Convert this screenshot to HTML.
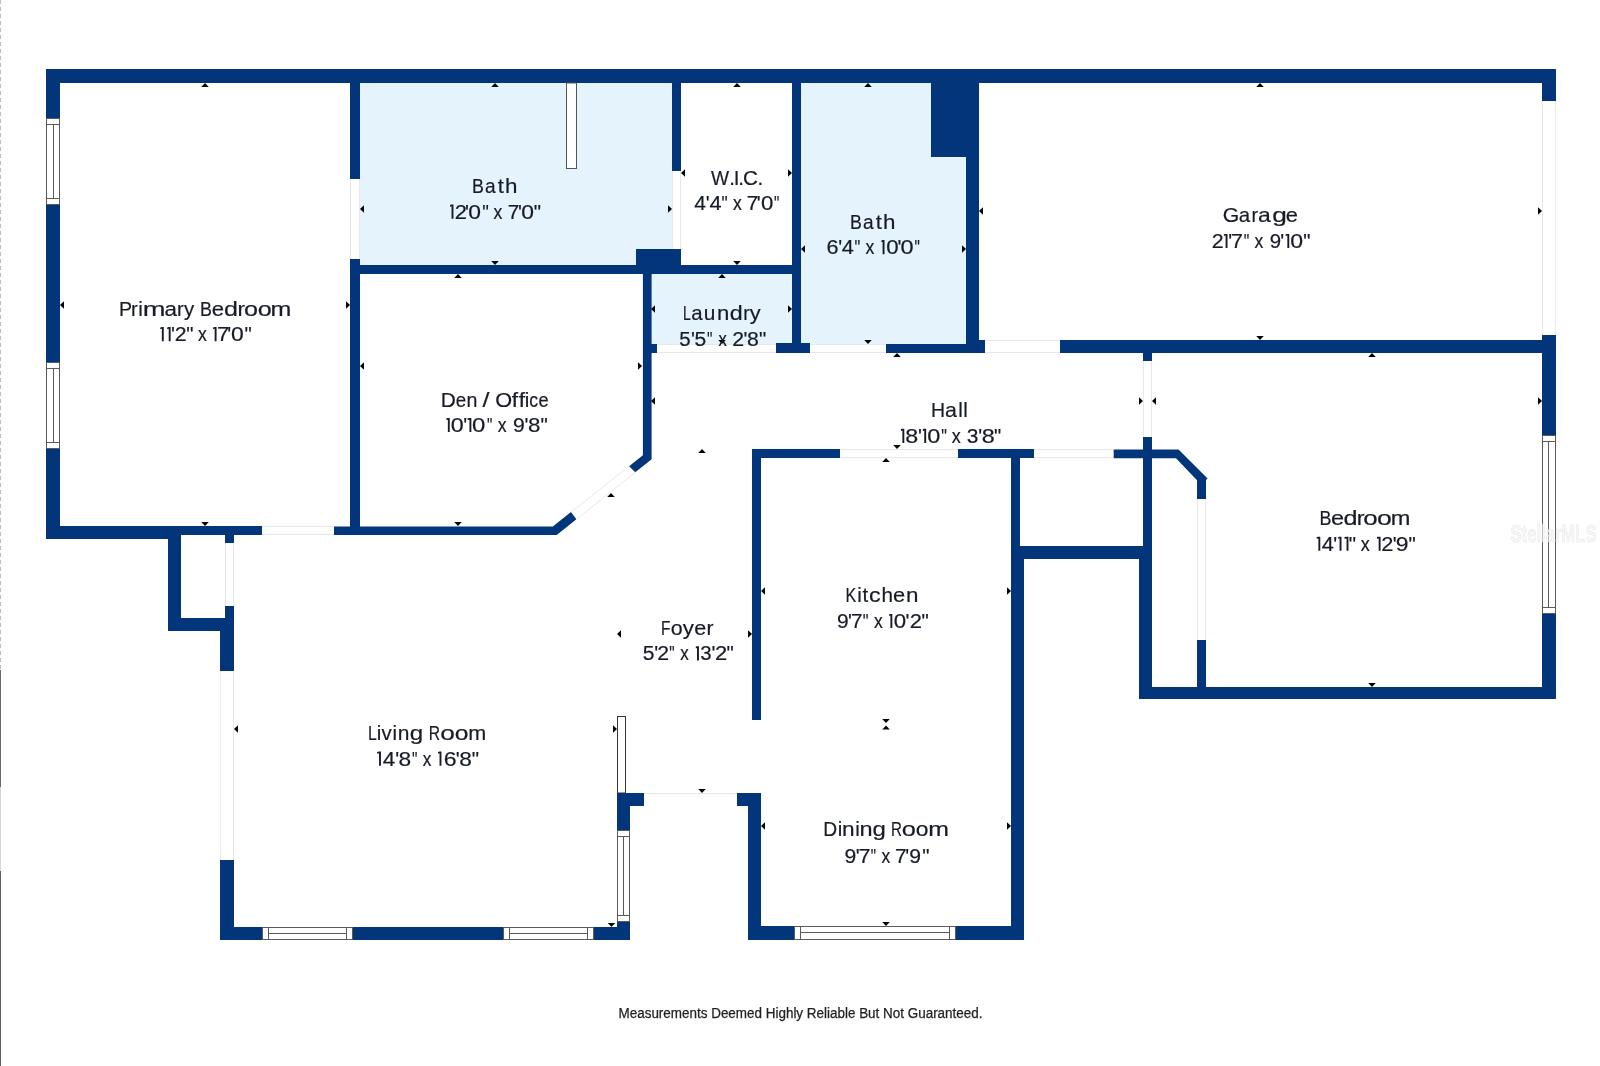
<!DOCTYPE html>
<html><head><meta charset="utf-8"><style>
html,body{margin:0;padding:0;background:#fff;}
body{width:1600px;height:1066px;overflow:hidden;position:relative;}
svg{position:absolute;left:0;top:0;will-change:transform;}
.t{font-family:"Liberation Sans",sans-serif;font-size:20.5px;fill:#171b27;stroke:#171b27;stroke-width:0.2px;font-variant-ligatures:none;}
.one{fill:#171b27;}
.f{font-family:"Liberation Sans",sans-serif;font-size:14px;fill:#222;stroke:#222;stroke-width:0.25px;}
.wm{font-family:"Liberation Sans",sans-serif;font-size:23.5px;font-weight:bold;fill:#f5f5f5;stroke:#e0e0e0;stroke-width:0.6px;opacity:0.75;}
</style></head><body>
<svg width="1600" height="1066" viewBox="0 0 1600 1066">
<line x1="0.5" y1="0" x2="0.5" y2="670" stroke="#bdbdbd" stroke-width="1" stroke-dasharray="4 3"/>
<line x1="0.5" y1="670" x2="0.5" y2="787" stroke="#6a6a60" stroke-width="1"/>
<line x1="0.5" y1="787" x2="0.5" y2="871" stroke="#d5d5d5" stroke-width="1"/>
<line x1="0.5" y1="871" x2="0.5" y2="1066" stroke="#5e5e5e" stroke-width="1"/>
<path fill="#e5f3fc" d="M801,83H931V157H966V344H801Z"/>
<rect x="360" y="83" width="312" height="182" fill="#e5f3fc"/>
<rect x="651" y="274" width="141" height="70" fill="#e5f3fc"/>
<rect x="46" y="69" width="1510" height="14" fill="#03357a"/>
<rect x="46" y="69" width="14" height="470" fill="#03357a"/>
<rect x="46" y="526" width="122" height="13" fill="#03357a"/>
<rect x="168" y="526" width="94" height="9" fill="#03357a"/>
<rect x="262" y="526" width="72" height="9" fill="#fff"/>
<line x1="262" y1="526.5" x2="334" y2="526.5" stroke="#e8e8e8" stroke-width="1"/>
<line x1="262" y1="534.5" x2="334" y2="534.5" stroke="#e8e8e8" stroke-width="1"/>
<rect x="350" y="83" width="10" height="96" fill="#03357a"/>
<rect x="350" y="179" width="10" height="80" fill="#fff"/>
<line x1="350.5" y1="179" x2="350.5" y2="259" stroke="#e8e8e8" stroke-width="1"/>
<line x1="359.5" y1="179" x2="359.5" y2="259" stroke="#e8e8e8" stroke-width="1"/>
<rect x="350" y="259" width="10" height="276" fill="#03357a"/>
<rect x="350" y="265" width="451" height="9" fill="#03357a"/>
<rect x="636" y="249" width="45" height="25" fill="#03357a"/>
<rect x="672" y="83" width="9" height="88" fill="#03357a"/>
<rect x="672" y="171" width="9" height="78" fill="#fff"/>
<line x1="672.5" y1="171" x2="672.5" y2="249" stroke="#e8e8e8" stroke-width="1"/>
<line x1="680.5" y1="171" x2="680.5" y2="249" stroke="#e8e8e8" stroke-width="1"/>
<rect x="792" y="83" width="9" height="270" fill="#03357a"/>
<rect x="566.5" y="83" width="10" height="85.5" fill="#fff" stroke="#555" stroke-width="1"/>
<rect x="931" y="83" width="48" height="74" fill="#03357a"/>
<rect x="966" y="157" width="13" height="196" fill="#03357a"/>
<rect x="979" y="340" width="6" height="13" fill="#03357a"/>
<rect x="886" y="344" width="99" height="9" fill="#03357a"/>
<rect x="776" y="343" width="34" height="10" fill="#03357a"/>
<rect x="810" y="344" width="76" height="9" fill="#fff"/>
<line x1="810" y1="344.5" x2="886" y2="344.5" stroke="#e8e8e8" stroke-width="1"/>
<line x1="810" y1="352.5" x2="886" y2="352.5" stroke="#e8e8e8" stroke-width="1"/>
<rect x="651" y="344" width="6" height="9" fill="#03357a"/>
<rect x="657" y="344" width="119" height="9" fill="#fff"/>
<line x1="657" y1="344.5" x2="776" y2="344.5" stroke="#e8e8e8" stroke-width="1"/>
<line x1="657" y1="352.5" x2="776" y2="352.5" stroke="#e8e8e8" stroke-width="1"/>
<polygon points="334,526.5 552.8,526.5 571.0,512.1177580466149 576.4,519.2649104320337 556.7,535 334,535" fill="#03357a"/>
<polygon points="629.1,466.2052164261931 642.9,455.3 642.9,274 651.6,274 651.6,459.2 635.3,472.2193888303478" fill="#03357a"/>
<line x1="571.00" y1="512.12" x2="629.10" y2="466.21" stroke="#e8e8e8" stroke-width="1"/>
<line x1="576.40" y1="519.26" x2="635.30" y2="472.22" stroke="#e8e8e8" stroke-width="1"/>
<rect x="985" y="340" width="75" height="13" fill="#fff"/>
<line x1="985" y1="340.5" x2="1060" y2="340.5" stroke="#e8e8e8" stroke-width="1"/>
<line x1="985" y1="352.5" x2="1060" y2="352.5" stroke="#e8e8e8" stroke-width="1"/>
<rect x="1060" y="340" width="496" height="13" fill="#03357a"/>
<rect x="1542" y="69" width="14" height="32" fill="#03357a"/>
<rect x="1542" y="101" width="14" height="234" fill="#fff"/>
<line x1="1542.5" y1="101" x2="1542.5" y2="335" stroke="#e8e8e8" stroke-width="1"/>
<line x1="1555.5" y1="101" x2="1555.5" y2="335" stroke="#e8e8e8" stroke-width="1"/>
<rect x="1542" y="335" width="14" height="100" fill="#03357a"/>
<rect x="1542.5" y="435.5" width="13" height="178" fill="#fff" stroke="#5a5a5a" stroke-width="1"/>
<line x1="1542" y1="441.5" x2="1556" y2="441.5" stroke="#5a5a5a" stroke-width="1"/>
<line x1="1542" y1="607.5" x2="1556" y2="607.5" stroke="#5a5a5a" stroke-width="1"/>
<line x1="1548.5" y1="441" x2="1548.5" y2="608" stroke="#5a5a5a" stroke-width="1"/>
<rect x="1542" y="614" width="14" height="85" fill="#03357a"/>
<rect x="1143" y="353" width="9" height="8" fill="#03357a"/>
<rect x="1143" y="361" width="9" height="76" fill="#fff"/>
<line x1="1143.5" y1="361" x2="1143.5" y2="437" stroke="#e8e8e8" stroke-width="1"/>
<line x1="1151.5" y1="361" x2="1151.5" y2="437" stroke="#e8e8e8" stroke-width="1"/>
<rect x="1143" y="437" width="9" height="109" fill="#03357a"/>
<rect x="1139" y="546" width="13" height="153" fill="#03357a"/>
<rect x="1139" y="687" width="417" height="12" fill="#03357a"/>
<rect x="1197" y="499" width="9" height="141" fill="#fff"/>
<line x1="1197.5" y1="499" x2="1197.5" y2="640" stroke="#e8e8e8" stroke-width="1"/>
<line x1="1205.5" y1="499" x2="1205.5" y2="640" stroke="#e8e8e8" stroke-width="1"/>
<rect x="1197" y="640" width="9" height="47" fill="#03357a"/>
<rect x="752" y="449" width="88" height="9" fill="#03357a"/>
<rect x="840" y="449" width="118" height="9" fill="#fff"/>
<line x1="840" y1="449.5" x2="958" y2="449.5" stroke="#e8e8e8" stroke-width="1"/>
<line x1="840" y1="457.5" x2="958" y2="457.5" stroke="#e8e8e8" stroke-width="1"/>
<rect x="958" y="449" width="76" height="9" fill="#03357a"/>
<rect x="1034" y="449" width="80" height="9" fill="#fff"/>
<line x1="1034" y1="449.5" x2="1114" y2="449.5" stroke="#e8e8e8" stroke-width="1"/>
<line x1="1034" y1="457.5" x2="1114" y2="457.5" stroke="#e8e8e8" stroke-width="1"/>
<polygon points="1113.7,449.4 1178.5,449.4 1207.6,478.5 1206,480 1206,499 1197,499 1197,480.2 1176,458.3 1113.7,458.3" fill="#03357a"/>
<rect x="1011" y="546" width="141" height="13" fill="#03357a"/>
<rect x="1011" y="449" width="9" height="97" fill="#03357a"/>
<rect x="1011" y="546" width="13" height="394" fill="#03357a"/>
<rect x="752" y="449" width="9" height="271" fill="#03357a"/>
<rect x="737" y="793" width="24" height="13" fill="#03357a"/>
<rect x="748" y="793" width="13" height="147" fill="#03357a"/>
<rect x="748" y="926" width="276" height="14" fill="#03357a"/>
<rect x="794.5" y="926.5" width="161" height="13" fill="#fff" stroke="#5a5a5a" stroke-width="1"/>
<line x1="800.5" y1="926" x2="800.5" y2="940" stroke="#5a5a5a" stroke-width="1"/>
<line x1="949.5" y1="926" x2="949.5" y2="940" stroke="#5a5a5a" stroke-width="1"/>
<line x1="800" y1="932.5" x2="950" y2="932.5" stroke="#5a5a5a" stroke-width="1"/>
<rect x="225" y="535" width="9" height="8" fill="#03357a"/>
<rect x="225" y="543" width="9" height="63" fill="#fff"/>
<line x1="225.5" y1="543" x2="225.5" y2="606" stroke="#e8e8e8" stroke-width="1"/>
<line x1="233.5" y1="543" x2="233.5" y2="606" stroke="#e8e8e8" stroke-width="1"/>
<rect x="225" y="606" width="9" height="25" fill="#03357a"/>
<rect x="220" y="631" width="14" height="40" fill="#03357a"/>
<rect x="220" y="671" width="14" height="189" fill="#fff"/>
<line x1="220.5" y1="671" x2="220.5" y2="860" stroke="#e8e8e8" stroke-width="1"/>
<line x1="233.5" y1="671" x2="233.5" y2="860" stroke="#e8e8e8" stroke-width="1"/>
<rect x="220" y="860" width="14" height="80" fill="#03357a"/>
<rect x="168" y="535" width="13" height="96" fill="#03357a"/>
<rect x="168" y="618" width="66" height="13" fill="#03357a"/>
<rect x="220" y="927" width="410" height="13" fill="#03357a"/>
<rect x="262.5" y="927.5" width="90" height="12" fill="#fff" stroke="#5a5a5a" stroke-width="1"/>
<line x1="268.5" y1="927" x2="268.5" y2="940" stroke="#5a5a5a" stroke-width="1"/>
<line x1="346.5" y1="927" x2="346.5" y2="940" stroke="#5a5a5a" stroke-width="1"/>
<line x1="268" y1="933.5" x2="347" y2="933.5" stroke="#5a5a5a" stroke-width="1"/>
<rect x="503.5" y="927.5" width="90" height="12" fill="#fff" stroke="#5a5a5a" stroke-width="1"/>
<line x1="509.5" y1="927" x2="509.5" y2="940" stroke="#5a5a5a" stroke-width="1"/>
<line x1="587.5" y1="927" x2="587.5" y2="940" stroke="#5a5a5a" stroke-width="1"/>
<line x1="509" y1="933.5" x2="588" y2="933.5" stroke="#5a5a5a" stroke-width="1"/>
<rect x="617" y="793" width="13" height="37" fill="#03357a"/>
<rect x="617.5" y="830.5" width="12" height="91" fill="#fff" stroke="#5a5a5a" stroke-width="1"/>
<line x1="617" y1="836.5" x2="630" y2="836.5" stroke="#5a5a5a" stroke-width="1"/>
<line x1="617" y1="915.5" x2="630" y2="915.5" stroke="#5a5a5a" stroke-width="1"/>
<line x1="623.5" y1="836" x2="623.5" y2="916" stroke="#5a5a5a" stroke-width="1"/>
<rect x="617" y="922" width="13" height="18" fill="#03357a"/>
<rect x="617" y="793" width="27" height="13" fill="#03357a"/>
<rect x="617.5" y="716.5" width="8" height="76.5" fill="#fff" stroke="#333" stroke-width="1"/>
<line x1="644" y1="793.5" x2="737" y2="793.5" stroke="#e8e8e8" stroke-width="1"/>
<rect x="46.5" y="118.5" width="13" height="86" fill="#fff" stroke="#5a5a5a" stroke-width="1"/>
<line x1="46" y1="124.5" x2="60" y2="124.5" stroke="#5a5a5a" stroke-width="1"/>
<line x1="46" y1="198.5" x2="60" y2="198.5" stroke="#5a5a5a" stroke-width="1"/>
<line x1="53.5" y1="124" x2="53.5" y2="199" stroke="#5a5a5a" stroke-width="1"/>
<rect x="46.5" y="362.5" width="13" height="86" fill="#fff" stroke="#5a5a5a" stroke-width="1"/>
<line x1="46" y1="368.5" x2="60" y2="368.5" stroke="#5a5a5a" stroke-width="1"/>
<line x1="46" y1="442.5" x2="60" y2="442.5" stroke="#5a5a5a" stroke-width="1"/>
<line x1="53.5" y1="368" x2="53.5" y2="443" stroke="#5a5a5a" stroke-width="1"/>
<polygon points="205,83 201.25,87 208.75,87" fill="#000"/>
<polygon points="205,526 201.25,522 208.75,522" fill="#000"/>
<polygon points="60,305 64,301.25 64,308.75" fill="#000"/>
<polygon points="350,305 346,301.25 346,308.75" fill="#000"/>
<polygon points="495,83 491.25,87 498.75,87" fill="#000"/>
<polygon points="495,265 491.25,261 498.75,261" fill="#000"/>
<polygon points="360,209 364,205.25 364,212.75" fill="#000"/>
<polygon points="672,209 668,205.25 668,212.75" fill="#000"/>
<polygon points="737,83 733.25,87 740.75,87" fill="#000"/>
<polygon points="737,265 733.25,261 740.75,261" fill="#000"/>
<polygon points="681,173 685,169.25 685,176.75" fill="#000"/>
<polygon points="792,173 788,169.25 788,176.75" fill="#000"/>
<polygon points="868,83 864.25,87 871.75,87" fill="#000"/>
<polygon points="868,344 864.25,340 871.75,340" fill="#000"/>
<polygon points="801,249 805,245.25 805,252.75" fill="#000"/>
<polygon points="966,249 962,245.25 962,252.75" fill="#000"/>
<polygon points="1260,83 1256.25,87 1263.75,87" fill="#000"/>
<polygon points="1260,340 1256.25,336 1263.75,336" fill="#000"/>
<polygon points="979,211 983,207.25 983,214.75" fill="#000"/>
<polygon points="1542,211 1538,207.25 1538,214.75" fill="#000"/>
<polygon points="722,274 718.25,278 725.75,278" fill="#000"/>
<polygon points="722,344 718.25,340 725.75,340" fill="#000"/>
<polygon points="651,309 655,305.25 655,312.75" fill="#000"/>
<polygon points="792,309 788,305.25 788,312.75" fill="#000"/>
<polygon points="458,274 454.25,278 461.75,278" fill="#000"/>
<polygon points="458,526 454.25,522 461.75,522" fill="#000"/>
<polygon points="360,366 364,362.25 364,369.75" fill="#000"/>
<polygon points="642,366 638,362.25 638,369.75" fill="#000"/>
<polygon points="897,353 893.25,357 900.75,357" fill="#000"/>
<polygon points="897,449 893.25,445 900.75,445" fill="#000"/>
<polygon points="651,401 655,397.25 655,404.75" fill="#000"/>
<polygon points="1143,401 1139,397.25 1139,404.75" fill="#000"/>
<polygon points="1372,353 1368.25,357 1375.75,357" fill="#000"/>
<polygon points="1372,687 1368.25,683 1375.75,683" fill="#000"/>
<polygon points="1152,401 1156,397.25 1156,404.75" fill="#000"/>
<polygon points="1542,401 1538,397.25 1538,404.75" fill="#000"/>
<polygon points="886,458 882.25,462 889.75,462" fill="#000"/>
<polygon points="886,723 882.25,719 889.75,719" fill="#000"/>
<polygon points="761,591 765,587.25 765,594.75" fill="#000"/>
<polygon points="1011,591 1007,587.25 1007,594.75" fill="#000"/>
<polygon points="886,725.5 882.25,729.5 889.75,729.5" fill="#000"/>
<polygon points="886,926 882.25,922 889.75,922" fill="#000"/>
<polygon points="761,826 765,822.25 765,829.75" fill="#000"/>
<polygon points="1011,826 1007,822.25 1007,829.75" fill="#000"/>
<polygon points="702,449 698.25,453 705.75,453" fill="#000"/>
<polygon points="702,793 698.25,789 705.75,789" fill="#000"/>
<polygon points="617,634 621,630.25 621,637.75" fill="#000"/>
<polygon points="752,634 748,630.25 748,637.75" fill="#000"/>
<polygon points="611,493 607.25,497 614.75,497" fill="#000"/>
<polygon points="611.5,927 607.75,923 615.25,923" fill="#000"/>
<polygon points="234,729 238,725.25 238,732.75" fill="#000"/>
<polygon points="617,729 613,725.25 613,732.75" fill="#000"/>
<text transform="matrix(0.9537,0,0,1,119.05,315.6)" class="t">P</text>
<text transform="matrix(0.9877,0,0,1,131.12,315.6)" class="t">r</text>
<text transform="matrix(1.0000,0,0,1,138.35,315.6)" class="t">i</text>
<text transform="matrix(1.3313,0,0,1,142.75,315.6)" class="t">m</text>
<text transform="matrix(1.0949,0,0,1,164.42,315.6)" class="t">a</text>
<text transform="matrix(0.9877,0,0,1,176.96,315.6)" class="t">r</text>
<text transform="matrix(0.9964,0,0,1,183.88,315.6)" class="t">y</text>
<text transform="matrix(0.8708,0,0,1,200.02,315.6)" class="t">B</text>
<text transform="matrix(1.0803,0,0,1,211.83,315.6)" class="t">e</text>
<text transform="matrix(1.2238,0,0,1,223.89,315.6)" class="t">d</text>
<text transform="matrix(1.1007,0,0,1,237.40,315.6)" class="t">r</text>
<text transform="matrix(1.2270,0,0,1,244.07,315.6)" class="t">o</text>
<text transform="matrix(1.2270,0,0,1,257.73,315.6)" class="t">o</text>
<text transform="matrix(1.2196,0,0,1,270.49,315.6)" class="t">m</text>
<path class="one" d="M161.85,327.10H163.75V341.20H161.85V328.80L160.31,329.20V327.40Z"/>
<path class="one" d="M168.72,327.10H170.62V341.20H168.72V328.80L167.19,329.20V327.40Z"/>
<text transform="matrix(1.0000,0,0,1,171.01,341.2)" class="t">'</text>
<text transform="matrix(1.0373,0,0,1,174.87,341.2)" class="t">2</text>
<text transform="matrix(1.0000,0,0,1,186.36,341.2)" class="t">&quot;</text>
<text transform="matrix(0.8610,0,0,1,197.93,341.2)" class="t">x</text>
<path class="one" d="M214.66,327.10H216.56V341.20H214.66V328.80L213.12,329.20V327.40Z"/>
<text transform="matrix(1.0731,0,0,1,217.00,341.2)" class="t">7</text>
<text transform="matrix(1.0000,0,0,1,227.26,341.2)" class="t">'</text>
<text transform="matrix(1.1161,0,0,1,230.98,341.2)" class="t">0</text>
<text transform="matrix(1.0000,0,0,1,244.49,341.2)" class="t">&quot;</text>
<text transform="matrix(0.8661,0,0,1,471.94,193)" class="t">B</text>
<text transform="matrix(0.9295,0,0,1,485.08,193)" class="t">a</text>
<text transform="matrix(1.0637,0,0,1,497.71,193)" class="t">t</text>
<text transform="matrix(1.0927,0,0,1,504.92,193)" class="t">h</text>
<path class="one" d="M451.54,204.60H453.44V218.70H451.54V206.30L450.00,206.70V204.90Z"/>
<text transform="matrix(1.0708,0,0,1,454.83,218.7)" class="t">2</text>
<text transform="matrix(1.0000,0,0,1,465.07,218.7)" class="t">'</text>
<text transform="matrix(1.1161,0,0,1,468.17,218.7)" class="t">0</text>
<text transform="matrix(0.9033,0,0,1,482.34,218.7)" class="t">&quot;</text>
<text transform="matrix(0.8610,0,0,1,493.55,218.7)" class="t">x</text>
<text transform="matrix(1.0060,0,0,1,507.69,218.7)" class="t">7</text>
<text transform="matrix(1.0000,0,0,1,517.88,218.7)" class="t">'</text>
<text transform="matrix(1.1161,0,0,1,521.29,218.7)" class="t">0</text>
<text transform="matrix(1.0000,0,0,1,533.86,218.7)" class="t">&quot;</text>
<text transform="matrix(0.9350,0,0,1,711.00,185)" class="t">W</text>
<text transform="matrix(1.0000,0,0,1,729.16,185)" class="t">.</text>
<text transform="matrix(1.0000,0,0,1,733.79,185)" class="t">I</text>
<text transform="matrix(1.0000,0,0,1,738.23,185)" class="t">.</text>
<text transform="matrix(1.0050,0,0,1,743.02,185)" class="t">C</text>
<text transform="matrix(1.0000,0,0,1,757.53,185)" class="t">.</text>
<text transform="matrix(1.0285,0,0,1,694.20,210.3)" class="t">4</text>
<text transform="matrix(1.0000,0,0,1,705.69,210.3)" class="t">'</text>
<text transform="matrix(1.0588,0,0,1,709.50,210.3)" class="t">4</text>
<text transform="matrix(0.8468,0,0,1,721.45,210.3)" class="t">&quot;</text>
<text transform="matrix(0.8610,0,0,1,732.93,210.3)" class="t">x</text>
<text transform="matrix(1.0060,0,0,1,746.76,210.3)" class="t">7</text>
<text transform="matrix(1.0000,0,0,1,756.63,210.3)" class="t">'</text>
<text transform="matrix(1.0842,0,0,1,761.01,210.3)" class="t">0</text>
<text transform="matrix(0.7339,0,0,1,774.05,210.3)" class="t">&quot;</text>
<text transform="matrix(0.8661,0,0,1,849.94,228.75)" class="t">B</text>
<text transform="matrix(0.9295,0,0,1,863.08,228.75)" class="t">a</text>
<text transform="matrix(1.0637,0,0,1,875.71,228.75)" class="t">t</text>
<text transform="matrix(1.0927,0,0,1,882.92,228.75)" class="t">h</text>
<text transform="matrix(1.0572,0,0,1,826.52,254.2)" class="t">6</text>
<text transform="matrix(1.0000,0,0,1,838.32,254.2)" class="t">'</text>
<text transform="matrix(1.0588,0,0,1,841.81,254.2)" class="t">4</text>
<text transform="matrix(0.7904,0,0,1,854.44,254.2)" class="t">&quot;</text>
<text transform="matrix(0.8610,0,0,1,865.55,254.2)" class="t">x</text>
<path class="one" d="M882.60,240.10H884.50V254.20H882.60V241.80L881.38,242.20V240.40Z"/>
<text transform="matrix(1.0842,0,0,1,886.13,254.2)" class="t">0</text>
<text transform="matrix(1.0000,0,0,1,897.38,254.2)" class="t">'</text>
<text transform="matrix(1.1480,0,0,1,900.46,254.2)" class="t">0</text>
<text transform="matrix(0.7339,0,0,1,914.49,254.2)" class="t">&quot;</text>
<text transform="matrix(1.0341,0,0,1,1222.78,221.75)" class="t">G</text>
<text transform="matrix(0.9978,0,0,1,1238.86,221.75)" class="t">a</text>
<text transform="matrix(0.9501,0,0,1,1251.51,221.75)" class="t">r</text>
<text transform="matrix(1.1195,0,0,1,1257.98,221.75)" class="t">a</text>
<text transform="matrix(1.2788,0,0,1,1272.21,221.75)" class="t">g</text>
<text transform="matrix(1.0657,0,0,1,1285.70,221.75)" class="t">e</text>
<text transform="matrix(1.0440,0,0,1,1211.80,248)" class="t">2</text>
<path class="one" d="M1225.60,233.90H1227.50V248.00H1225.60V235.60L1223.92,236.00V234.20Z"/>
<text transform="matrix(1.0000,0,0,1,1228.30,248)" class="t">'</text>
<text transform="matrix(1.0462,0,0,1,1230.95,248)" class="t">7</text>
<text transform="matrix(0.7633,0,0,1,1243.73,248)" class="t">&quot;</text>
<text transform="matrix(0.8623,0,0,1,1254.60,248)" class="t">x</text>
<text transform="matrix(0.9953,0,0,1,1269.77,248)" class="t">9</text>
<text transform="matrix(1.0000,0,0,1,1280.14,248)" class="t">'</text>
<path class="one" d="M1287.35,233.90H1289.25V248.00H1287.35V235.60L1285.67,236.00V234.20Z"/>
<text transform="matrix(1.1276,0,0,1,1290.29,248)" class="t">0</text>
<text transform="matrix(1.0000,0,0,1,1303.16,248)" class="t">&quot;</text>
<text transform="matrix(0.6840,0,0,1,682.88,319.75)" class="t">L</text>
<text transform="matrix(0.9956,0,0,1,691.23,319.75)" class="t">a</text>
<text transform="matrix(1.0187,0,0,1,703.64,319.75)" class="t">u</text>
<text transform="matrix(1.0804,0,0,1,716.97,319.75)" class="t">n</text>
<text transform="matrix(1.1372,0,0,1,729.83,319.75)" class="t">d</text>
<text transform="matrix(0.9441,0,0,1,743.23,319.75)" class="t">r</text>
<text transform="matrix(1.0583,0,0,1,749.84,319.75)" class="t">y</text>
<text transform="matrix(0.9974,0,0,1,679.29,345.9)" class="t">5</text>
<text transform="matrix(1.0000,0,0,1,690.93,345.9)" class="t">'</text>
<text transform="matrix(1.0277,0,0,1,694.55,345.9)" class="t">5</text>
<text transform="matrix(0.7430,0,0,1,707.08,345.9)" class="t">&quot;</text>
<text transform="matrix(0.8094,0,0,1,718.41,345.9)" class="t">x</text>
<text transform="matrix(1.0381,0,0,1,732.22,345.9)" class="t">2</text>
<text transform="matrix(1.0000,0,0,1,743.52,345.9)" class="t">'</text>
<text transform="matrix(1.0383,0,0,1,747.05,345.9)" class="t">8</text>
<text transform="matrix(1.0000,0,0,1,759.02,345.9)" class="t">&quot;</text>
<text transform="matrix(1.0193,0,0,1,440.76,406.8)" class="t">D</text>
<text transform="matrix(0.9123,0,0,1,455.63,406.8)" class="t">e</text>
<text transform="matrix(0.9561,0,0,1,466.38,406.8)" class="t">n</text>
<text transform="matrix(1.2248,0,0,1,482.53,406.8)" class="t">/</text>
<text transform="matrix(1.0613,0,0,1,495.23,406.8)" class="t">O</text>
<text transform="matrix(1.1107,0,0,1,511.78,406.8)" class="t">f</text>
<text transform="matrix(1.1107,0,0,1,518.86,406.8)" class="t">f</text>
<text transform="matrix(1.0000,0,0,1,524.66,406.8)" class="t">i</text>
<text transform="matrix(0.8612,0,0,1,529.20,406.8)" class="t">c</text>
<text transform="matrix(0.8868,0,0,1,538.62,406.8)" class="t">e</text>
<path class="one" d="M447.85,418.00H449.75V432.10H447.85V419.70L446.37,420.10V418.30Z"/>
<text transform="matrix(1.1365,0,0,1,450.86,432.1)" class="t">0</text>
<text transform="matrix(1.0000,0,0,1,463.31,432.1)" class="t">'</text>
<path class="one" d="M469.45,418.00H471.35V432.10H469.45V419.70L467.64,420.10V418.30Z"/>
<text transform="matrix(1.1710,0,0,1,472.10,432.1)" class="t">0</text>
<text transform="matrix(0.7316,0,0,1,486.91,432.1)" class="t">&quot;</text>
<text transform="matrix(0.8610,0,0,1,497.81,432.1)" class="t">x</text>
<text transform="matrix(1.0336,0,0,1,512.88,432.1)" class="t">9</text>
<text transform="matrix(1.0000,0,0,1,524.57,432.1)" class="t">'</text>
<text transform="matrix(1.0876,0,0,1,528.09,432.1)" class="t">8</text>
<text transform="matrix(1.0000,0,0,1,540.44,432.1)" class="t">&quot;</text>
<text transform="matrix(0.9487,0,0,1,930.94,416.9)" class="t">H</text>
<text transform="matrix(1.0447,0,0,1,944.97,416.9)" class="t">a</text>
<text transform="matrix(1.0000,0,0,1,958.31,416.9)" class="t">l</text>
<text transform="matrix(1.0000,0,0,1,963.26,416.9)" class="t">l</text>
<path class="one" d="M902.39,428.80H904.29V442.90H902.39V430.50L900.98,430.90V429.10Z"/>
<text transform="matrix(1.1364,0,0,1,905.26,442.9)" class="t">8</text>
<text transform="matrix(1.0000,0,0,1,918.06,442.9)" class="t">'</text>
<path class="one" d="M924.25,428.80H926.15V442.90H924.25V430.50L922.84,430.90V429.10Z"/>
<text transform="matrix(1.1493,0,0,1,927.22,442.9)" class="t">0</text>
<text transform="matrix(0.7780,0,0,1,941.37,442.9)" class="t">&quot;</text>
<text transform="matrix(0.8789,0,0,1,951.79,442.9)" class="t">x</text>
<text transform="matrix(1.0225,0,0,1,966.76,442.9)" class="t">3</text>
<text transform="matrix(1.0000,0,0,1,978.35,442.9)" class="t">'</text>
<text transform="matrix(1.1364,0,0,1,981.78,442.9)" class="t">8</text>
<text transform="matrix(1.0000,0,0,1,993.90,442.9)" class="t">&quot;</text>
<text transform="matrix(0.8700,0,0,1,1319.44,524.8)" class="t">B</text>
<text transform="matrix(1.1459,0,0,1,1330.92,524.8)" class="t">e</text>
<text transform="matrix(1.2289,0,0,1,1343.42,524.8)" class="t">d</text>
<text transform="matrix(1.1351,0,0,1,1356.71,524.8)" class="t">r</text>
<text transform="matrix(1.2653,0,0,1,1363.29,524.8)" class="t">o</text>
<text transform="matrix(1.2969,0,0,1,1377.04,524.8)" class="t">o</text>
<text transform="matrix(1.1511,0,0,1,1390.67,524.8)" class="t">m</text>
<path class="one" d="M1318.38,536.70H1320.28V550.80H1318.38V538.40L1316.64,538.80V537.00Z"/>
<text transform="matrix(1.0582,0,0,1,1321.77,550.8)" class="t">4</text>
<text transform="matrix(1.0000,0,0,1,1333.23,550.8)" class="t">'</text>
<path class="one" d="M1339.58,536.70H1341.48V550.80H1339.58V538.40L1338.17,538.80V537.00Z"/>
<path class="one" d="M1346.54,536.70H1348.44V550.80H1346.54V538.40L1344.46,538.80V537.00Z"/>
<text transform="matrix(1.0000,0,0,1,1348.77,550.8)" class="t">&quot;</text>
<text transform="matrix(0.8789,0,0,1,1360.82,550.8)" class="t">x</text>
<path class="one" d="M1378.67,536.70H1380.57V550.80H1378.67V538.40L1376.93,538.80V537.00Z"/>
<text transform="matrix(1.0641,0,0,1,1381.13,550.8)" class="t">2</text>
<text transform="matrix(1.0000,0,0,1,1392.69,550.8)" class="t">'</text>
<text transform="matrix(1.1194,0,0,1,1395.73,550.8)" class="t">9</text>
<text transform="matrix(1.0000,0,0,1,1408.40,550.8)" class="t">&quot;</text>
<text transform="matrix(0.7865,0,0,1,845.43,602.3)" class="t">K</text>
<text transform="matrix(1.0000,0,0,1,857.23,602.3)" class="t">i</text>
<text transform="matrix(1.0028,0,0,1,862.44,602.3)" class="t">t</text>
<text transform="matrix(1.1314,0,0,1,869.01,602.3)" class="t">c</text>
<text transform="matrix(1.0117,0,0,1,881.56,602.3)" class="t">h</text>
<text transform="matrix(1.0656,0,0,1,893.07,602.3)" class="t">e</text>
<text transform="matrix(1.0909,0,0,1,906.01,602.3)" class="t">n</text>
<text transform="matrix(1.0230,0,0,1,836.95,628)" class="t">9</text>
<text transform="matrix(1.0000,0,0,1,848.01,628)" class="t">'</text>
<text transform="matrix(1.0060,0,0,1,850.94,628)" class="t">7</text>
<text transform="matrix(0.7904,0,0,1,862.87,628)" class="t">&quot;</text>
<text transform="matrix(0.8610,0,0,1,873.99,628)" class="t">x</text>
<path class="one" d="M890.41,613.90H892.31V628.00H890.41V615.60L889.19,616.00V614.20Z"/>
<text transform="matrix(1.0842,0,0,1,893.63,628)" class="t">0</text>
<text transform="matrix(1.0000,0,0,1,905.51,628)" class="t">'</text>
<text transform="matrix(1.0708,0,0,1,909.65,628)" class="t">2</text>
<text transform="matrix(1.0000,0,0,1,921.49,628)" class="t">&quot;</text>
<text transform="matrix(0.7484,0,0,1,660.99,635.2)" class="t">F</text>
<text transform="matrix(1.0459,0,0,1,670.72,635.2)" class="t">o</text>
<text transform="matrix(1.0887,0,0,1,682.82,635.2)" class="t">y</text>
<text transform="matrix(1.0524,0,0,1,694.33,635.2)" class="t">e</text>
<text transform="matrix(1.0243,0,0,1,706.60,635.2)" class="t">r</text>
<text transform="matrix(1.0289,0,0,1,642.78,660.4)" class="t">5</text>
<text transform="matrix(1.0000,0,0,1,654.32,660.4)" class="t">'</text>
<text transform="matrix(1.0373,0,0,1,657.24,660.4)" class="t">2</text>
<text transform="matrix(0.7339,0,0,1,669.24,660.4)" class="t">&quot;</text>
<text transform="matrix(0.8291,0,0,1,680.31,660.4)" class="t">x</text>
<path class="one" d="M697.04,646.30H698.94V660.40H697.04V648.00L695.81,648.40V646.60Z"/>
<text transform="matrix(0.9967,0,0,1,700.35,660.4)" class="t">3</text>
<text transform="matrix(1.0000,0,0,1,711.51,660.4)" class="t">'</text>
<text transform="matrix(1.0708,0,0,1,715.02,660.4)" class="t">2</text>
<text transform="matrix(1.0000,0,0,1,726.55,660.4)" class="t">&quot;</text>
<text transform="matrix(0.7719,0,0,1,367.97,739.9)" class="t">L</text>
<text transform="matrix(1.0000,0,0,1,376.68,739.9)" class="t">i</text>
<text transform="matrix(0.9968,0,0,1,381.60,739.9)" class="t">v</text>
<text transform="matrix(1.0000,0,0,1,392.57,739.9)" class="t">i</text>
<text transform="matrix(1.0237,0,0,1,397.71,739.9)" class="t">n</text>
<text transform="matrix(1.1772,0,0,1,409.72,739.9)" class="t">g</text>
<text transform="matrix(0.7642,0,0,1,428.83,739.9)" class="t">R</text>
<text transform="matrix(1.2814,0,0,1,440.25,739.9)" class="t">o</text>
<text transform="matrix(1.2013,0,0,1,454.66,739.9)" class="t">o</text>
<text transform="matrix(1.0524,0,0,1,468.22,739.9)" class="t">m</text>
<path class="one" d="M379.04,751.60H380.94V765.70H379.04V753.30L377.16,753.70V751.90Z"/>
<text transform="matrix(1.0982,0,0,1,382.83,765.7)" class="t">4</text>
<text transform="matrix(1.0000,0,0,1,395.30,765.7)" class="t">'</text>
<text transform="matrix(1.1078,0,0,1,398.51,765.7)" class="t">8</text>
<text transform="matrix(0.7452,0,0,1,411.91,765.7)" class="t">&quot;</text>
<text transform="matrix(0.8419,0,0,1,422.68,765.7)" class="t">x</text>
<path class="one" d="M439.54,751.60H441.44V765.70H439.54V753.30L438.00,753.70V751.90Z"/>
<text transform="matrix(1.1266,0,0,1,443.70,765.7)" class="t">6</text>
<text transform="matrix(1.0000,0,0,1,455.63,765.7)" class="t">'</text>
<text transform="matrix(1.1078,0,0,1,459.36,765.7)" class="t">8</text>
<text transform="matrix(1.0000,0,0,1,471.66,765.7)" class="t">&quot;</text>
<text transform="matrix(0.9389,0,0,1,823.22,836.2)" class="t">D</text>
<text transform="matrix(1.0000,0,0,1,837.73,836.2)" class="t">i</text>
<text transform="matrix(1.1024,0,0,1,842.10,836.2)" class="t">n</text>
<text transform="matrix(1.0000,0,0,1,855.13,836.2)" class="t">i</text>
<text transform="matrix(1.1483,0,0,1,859.44,836.2)" class="t">n</text>
<text transform="matrix(1.1715,0,0,1,872.59,836.2)" class="t">g</text>
<text transform="matrix(0.7394,0,0,1,890.96,836.2)" class="t">R</text>
<text transform="matrix(1.2397,0,0,1,901.73,836.2)" class="t">o</text>
<text transform="matrix(1.1158,0,0,1,915.84,836.2)" class="t">o</text>
<text transform="matrix(1.2114,0,0,1,928.15,836.2)" class="t">m</text>
<text transform="matrix(1.0324,0,0,1,844.47,862.5)" class="t">9</text>
<text transform="matrix(1.0000,0,0,1,855.72,862.5)" class="t">'</text>
<text transform="matrix(1.0490,0,0,1,858.45,862.5)" class="t">7</text>
<text transform="matrix(0.7272,0,0,1,870.71,862.5)" class="t">&quot;</text>
<text transform="matrix(0.8509,0,0,1,881.49,862.5)" class="t">x</text>
<text transform="matrix(1.0181,0,0,1,895.00,862.5)" class="t">7</text>
<text transform="matrix(1.0000,0,0,1,905.17,862.5)" class="t">'</text>
<text transform="matrix(1.0324,0,0,1,909.16,862.5)" class="t">9</text>
<text transform="matrix(1.0000,0,0,1,922.33,862.5)" class="t">&quot;</text>
<text x="618.5" y="1017.5" textLength="364" lengthAdjust="spacingAndGlyphs" class="f">Measurements Deemed Highly Reliable But Not Guaranteed.</text>
<text x="1510.5" y="541.5" textLength="86" lengthAdjust="spacingAndGlyphs" class="wm">StellarMLS</text>
</svg>
</body></html>
